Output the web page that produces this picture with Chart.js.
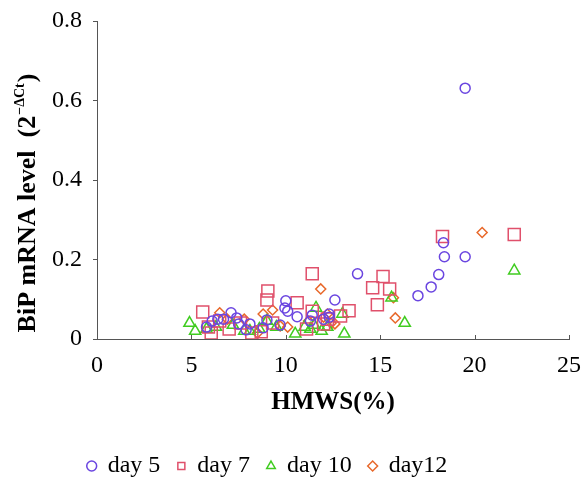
<!DOCTYPE html>
<html>
<head>
<meta charset="utf-8">
<script src="https://cdn.jsdelivr.net/npm/chart.js@4"></script>
<style>
  body { margin: 0; background: #fff; }
  canvas { display: block; }
</style>
</head>
<body>
<canvas id="c" width="586" height="479"></canvas>
<script>
// HMWS (%) vs BiP mRNA level
const day5X = [5.8, 6.1, 6.4, 6.7, 7.1, 7.4, 7.5, 7.9, 8.1, 8.8, 9.0, 9.7, 9.95, 10.0, 10.1, 10.6, 11.3, 11.4, 12.0, 12.3, 12.3, 12.6, 13.8, 17.0, 17.7, 18.1, 18.35, 18.4, 19.5, 19.5];
const day5Y = [0.03, 0.045, 0.05, 0.05, 0.066, 0.053, 0.038, 0.023, 0.038, 0.028, 0.048, 0.035, 0.078, 0.096, 0.07, 0.056, 0.045, 0.06, 0.05, 0.063, 0.055, 0.098, 0.164, 0.109, 0.131, 0.162, 0.242, 0.207, 0.631, 0.207];

const day7X = [5.6, 5.9, 6.05, 6.5, 7.0, 7.6, 8.2, 8.7, 9.0, 9.05, 9.3, 10.6, 11.1, 11.4, 11.4, 12.0, 12.2, 12.9, 13.35, 14.6, 14.85, 15.15, 15.5, 18.3, 22.1];
const day7Y = [0.068, 0.03, 0.015, 0.045, 0.025, 0.04, 0.015, 0.018, 0.098, 0.121, 0.04, 0.091, 0.025, 0.164, 0.07, 0.038, 0.05, 0.058, 0.071, 0.129, 0.086, 0.157, 0.126, 0.258, 0.263];

const day10X = [4.9, 5.2, 5.8, 6.3, 7.2, 7.8, 8.1, 8.6, 9.0, 9.5, 10.5, 11.0, 11.3, 11.5, 11.6, 11.9, 12.2, 13.0, 13.1, 15.6, 16.3, 22.1];
const day10Y = [0.04, 0.02, 0.025, 0.03, 0.035, 0.02, 0.02, 0.025, 0.045, 0.03, 0.013, 0.03, 0.025, 0.035, 0.078, 0.02, 0.03, 0.063, 0.013, 0.104, 0.04, 0.172];

const day12X = [6.5, 6.9, 7.8, 8.5, 8.8, 9.3, 9.7, 10.1, 11.2, 11.85, 12.0, 12.2, 12.4, 12.6, 15.7, 15.8, 20.4];
const day12Y = [0.066, 0.05, 0.05, 0.015, 0.063, 0.073, 0.033, 0.03, 0.045, 0.126, 0.055, 0.063, 0.04, 0.038, 0.104, 0.053, 0.268];

const xTicks = [0, 5, 10, 15, 20, 25];
const yTicks = [0, 0.2, 0.4, 0.6, 0.8];

const serif = "'Liberation Serif', 'DejaVu Serif', serif";
const axisColor = "#555";

function pts(xs, ys) {
    return xs.map((x, i) => ({ x: x, y: ys[i] }));
}

function series(label, xs, ys, color, style, radius) {
    return {
        label: label,
        data: pts(xs, ys),
        borderColor: color,
        backgroundColor: "rgba(0,0,0,0)",
        borderWidth: 1.5,
        pointStyle: style,
        pointRadius: radius,
        pointHoverRadius: radius
    };
}

// inward x ticks + y title with superscript, legend nudged left
const extras = {
    id: "extras",
    afterLayout(chart) {
        chart.legend.left -= 17;
        chart.legend.right -= 17;
    },
    afterDraw(chart) {
        const ctx = chart.ctx;
        const xs = chart.scales.x;
        const bottom = chart.chartArea.bottom;
        ctx.save();
        ctx.strokeStyle = axisColor;
        ctx.lineWidth = 1;
        xTicks.forEach(v => {
            const px = Math.round(xs.getPixelForValue(v)) + 0.5;
            ctx.beginPath();
            ctx.moveTo(px, bottom);
            ctx.lineTo(px, bottom - 4);
            ctx.stroke();
        });
        ctx.restore();

        const main = "BiP mRNA level  (2";
        const sup = "\u2212\u0394Ct";
        const close = ")";
        const bigFont = "bold 26px " + serif;
        const smallFont = "bold 14px " + serif;
        ctx.save();
        ctx.fillStyle = "#000";
        ctx.font = bigFont;
        const w1 = ctx.measureText(main).width;
        const w3 = ctx.measureText(close).width;
        ctx.font = smallFont;
        const w2 = ctx.measureText(sup).width;
        const total = w1 + w2 + 2 + w3;
        ctx.translate(35, 203);
        ctx.rotate(-Math.PI / 2);
        ctx.textBaseline = "alphabetic";
        ctx.textAlign = "left";
        let x = -total / 2;
        ctx.font = bigFont;
        ctx.fillText(main, x, 0);
        x += w1;
        ctx.font = smallFont;
        ctx.fillText(sup, x + 1, -11);
        x += w2 + 2;
        ctx.font = bigFont;
        ctx.fillText(close, x, 0);
        ctx.restore();
    }
};

new Chart(document.getElementById("c"), {
    type: "scatter",
    data: {
        datasets: [
            series("day 5", day5X, day5Y, "#6a45e0", "circle", 5),
            series("day 7", day7X, day7Y, "#e0506b", "rect", 8.5),
            series("day 10", day10X, day10Y, "#40cc20", "triangle", 6.5),
            series("day12", day12X, day12Y, "#e8682a", "rectRot", 5)
        ]
    },
    options: {
        responsive: false,
        devicePixelRatio: 1,
        animation: false,
        layout: { padding: { top: 21, right: 17, left: 0, bottom: -9 } },
        plugins: {
            tooltip: { enabled: false },
            legend: {
                position: "bottom",
                labels: {
                    usePointStyle: true,
                    boxWidth: 8,
                    boxHeight: 7,
                    padding: 17,
                    color: "#000",
                    font: { family: serif, size: 24 }
                }
            }
        },
        scales: {
            x: {
                type: "linear",
                min: 0,
                max: 25,
                afterBuildTicks: s => { s.ticks = xTicks.map(v => ({ value: v })); },
                afterFit: s => { s.height = 98; s.paddingLeft = 0; s.paddingRight = 0; },
                grid: { display: false, drawTicks: false },
                border: { color: axisColor, width: 1 },
                ticks: { padding: 12, color: "#000", font: { family: serif, size: 24 } },
                title: {
                    display: true,
                    text: "HMWS(%)",
                    color: "#000",
                    padding: { top: 0, bottom: 19 },
                    font: { family: serif, size: 25, weight: "bold" }
                }
            },
            y: {
                type: "linear",
                min: 0,
                max: 0.8,
                afterBuildTicks: s => { s.ticks = yTicks.map(v => ({ value: v })); },
                afterFit: s => { s.width = 97; s.paddingTop = 0; s.paddingBottom = 0; },
                grid: { drawOnChartArea: false, drawTicks: true, tickLength: 4, color: axisColor },
                border: { color: axisColor, width: 1 },
                ticks: { padding: 11, color: "#000", font: { family: serif, size: 24 } }
            }
        }
    },
    plugins: [extras]
});
</script>
</body>
</html>
